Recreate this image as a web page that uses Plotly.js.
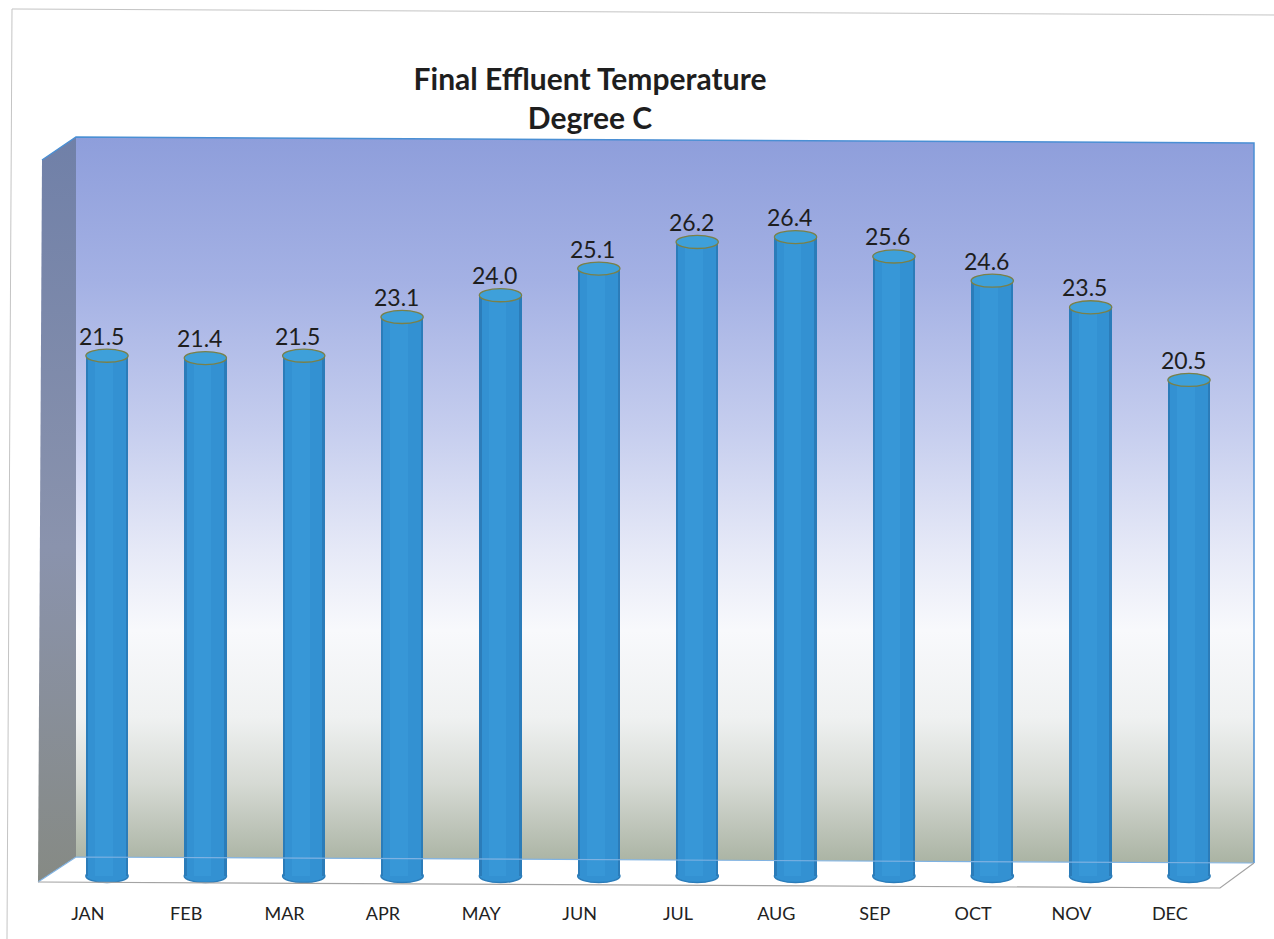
<!DOCTYPE html>
<html><head><meta charset="utf-8">
<script src="https://cdn.plot.ly/plotly-3.0.1.min.js"></script>
<style>html,body{margin:0;padding:0;background:#fff}#chart{width:1274px;height:939px}</style>
</head><body><div id="chart"></div>
<script>
// ---- data ----
const months = ['JAN','FEB','MAR','APR','MAY','JUN','JUL','AUG','SEP','OCT','NOV','DEC'];
const temps = [21.5, 21.4, 21.5, 23.1, 24.0, 25.1, 26.2, 26.4, 25.6, 24.6, 23.5, 20.5];
const titleLines = ['Final Effluent Temperature', 'Degree C'];

// ---- figure geometry ----
const W = 1274, H = 939;
const idx = months.map((_, i) => i);
const px = x => x / W;
const py = y => 1 - y / H;
const P = (x, y) => px(x).toFixed(5) + ',' + py(y).toFixed(5);

// background walls (decorative 3D frame) as an svg image
const svg = `<svg xmlns="http://www.w3.org/2000/svg" width="${W}" height="${H}" viewBox="0 0 ${W} ${H}" preserveAspectRatio="none">
<defs>
<linearGradient id="bw" x1="0" y1="0" x2="0" y2="1">
<stop offset="0" stop-color="#8e9edb"/>
<stop offset="0.2" stop-color="#a4b1e4"/>
<stop offset="0.4" stop-color="#c5cdee"/>
<stop offset="0.57" stop-color="#e6e9f7"/>
<stop offset="0.68" stop-color="#f8f9fc"/>
<stop offset="0.8" stop-color="#eff1f1"/>
<stop offset="0.89" stop-color="#d6dad4"/>
<stop offset="1" stop-color="#aab3a3"/>
</linearGradient>
<linearGradient id="lw" x1="0" y1="0" x2="0" y2="1">
<stop offset="0" stop-color="#7080a8"/>
<stop offset="0.55" stop-color="#8a93ad"/>
<stop offset="1" stop-color="#868a84"/>
</linearGradient>
</defs>
<polygon points="76,137 1254,143 1254,863 76,857" fill="url(#bw)"/>
<polygon points="42,160 76,137 76,857 38,882" fill="url(#lw)"/>
<polygon points="76,857 1254,863 1220,888 38,882" fill="#ffffff"/>
</svg>`;
const svgUri = 'data:image/svg+xml;charset=utf-8,' + encodeURIComponent(svg);

// ---- cylinder colours ----
const rimColor = '#2b7cb9';
const bodyColor = '#3391d2';
const hiColor = '#3797d7';
const topFill = '#3ea0da';
const topLine = '#7a8048';

const traces = [
  {type: 'bar', x: idx, y: temps, width: 0.43, marker: {color: rimColor, line: {width: 0}}, hoverinfo: 'skip', showlegend: false},
  {type: 'bar', x: idx, y: temps, width: 0.38, marker: {color: bodyColor, line: {width: 0}}, hoverinfo: 'skip', showlegend: false},
  {type: 'bar', x: idx, y: temps, width: 0.18, offset: -0.12, marker: {color: hiColor, line: {width: 0}}, hoverinfo: 'skip', showlegend: false}
];

const ry = 0.27, rx = 0.215;
const shapes = [];
// page frame (scan border)
shapes.push({type: 'path', xref: 'paper', yref: 'paper', path: `M${P(12,9)} L${P(1274,15)} M${P(12,9)} L${P(7,939)}`, line: {color: '#c4c4c4', width: 1}});
// 3D frame edges
shapes.push({type: 'path', xref: 'paper', yref: 'paper', path: `M${P(42,160)} L${P(76,137)} L${P(1254,143)} L${P(1254,863)}`, line: {color: '#4a8fd4', width: 1.5}});
shapes.push({type: 'path', xref: 'paper', yref: 'paper', path: `M${P(38,882)} L${P(76,857)} L${P(1254,863)}`, line: {color: '#7fb2e2', width: 1.2}});
shapes.push({type: 'path', xref: 'paper', yref: 'paper', path: `M${P(38,882)} L${P(1220,888)} L${P(1254,863)}`, line: {color: '#a3a3a3', width: 1.2}});
// cylinder bottoms (below bars) and tops (above bars)
temps.forEach((v, i) => {
  shapes.push({type: 'circle', xref: 'x', yref: 'y', layer: 'below', x0: i - rx, x1: i + rx, y0: -ry, y1: ry, fillcolor: bodyColor, line: {color: rimColor, width: 1.5}});
  shapes.push({type: 'circle', xref: 'x', yref: 'y', layer: 'above', x0: i - rx, x1: i + rx, y0: v - ry, y1: v + ry, fillcolor: topFill, line: {color: topLine, width: 1.3}});
});

const annotations = temps.map((v, i) => ({
  x: i, y: v, text: v.toFixed(1), showarrow: false, xanchor: 'center', yanchor: 'middle',
  xshift: -6, yshift: 20, font: {family: 'Lato, Open Sans, sans-serif', size: 23, color: '#1e1e1e'}
}));

const layout = {
  width: W, height: H,
  margin: {l: 0, r: 0, t: 0, b: 0, pad: 0},
  paper_bgcolor: '#ffffff', plot_bgcolor: 'rgba(0,0,0,0)',
  barmode: 'overlay', bargap: 0,
  showlegend: false,
  title: {
    text: titleLines.join('<br>'),
    font: {family: 'Lato, Open Sans, sans-serif', size: 30, color: '#1e1e1e', weight: 700},
    xref: 'paper', x: 590 / W, xanchor: 'center',
    yref: 'container', y: 1 - 90 / H, yanchor: 'top'
  },
  xaxis: {
    domain: [px(38), px(1255)], range: [-0.7015, 11.671],
    tickmode: 'array', tickvals: idx.map(i => i - 0.195), ticktext: months,
    showgrid: false, zeroline: false, showline: false, ticks: '',
    tickfont: {family: 'Lato, Open Sans, sans-serif', size: 18, color: '#222'},
    ticklabelstandoff: 9, fixedrange: true
  },
  yaxis: {
    domain: [py(892), py(137)], range: [-0.661, 30.537],
    visible: false, showgrid: false, zeroline: false, fixedrange: true
  },
  images: [{source: svgUri, xref: 'paper', yref: 'paper', x: 0, y: 1, sizex: 1, sizey: 1, sizing: 'stretch', xanchor: 'left', yanchor: 'top', layer: 'below'}],
  shapes: shapes,
  annotations: annotations
};

Plotly.newPlot('chart', traces, layout, {displayModeBar: false, staticPlot: true});
</script>
</body></html>
